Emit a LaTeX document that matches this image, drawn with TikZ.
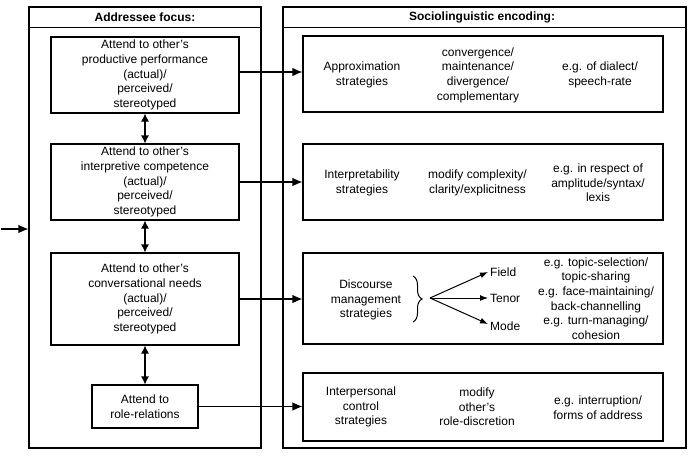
\documentclass[tikz,border=0pt]{standalone}
\usepackage{fontspec}
\setmainfont{Liberation Sans}
\usetikzlibrary{arrows.meta,decorations.pathreplacing}
\tikzset{
  box/.style={draw, line width=1.1pt, inner sep=0pt},
  txt/.style={align=center, inner sep=0pt, font=\fontsize{12}{14.6}\selectfont},
  hdr/.style={inner sep=0pt, font=\fontsize{12}{14.6}\selectfont\bfseries},
  lbl/.style={anchor=west, inner sep=2pt, font=\fontsize{12}{14.6}\selectfont},
  arr/.style={-{Latex[length=10pt,width=8.5pt]}, line width=1.1pt},
  darr/.style={{Latex[length=8pt,width=8pt]}-{Latex[length=8pt,width=8pt]}, line width=1.1pt},
  sarr/.style={-{Latex[length=8pt,width=6pt]}, line width=1pt}
}
\begin{document}
\begin{tikzpicture}[x=1pt,y=-1pt]
\useasboundingbox (0,0) rectangle (693,461);
% outer boxes
\node[box, minimum width=232pt, minimum height=441pt] (lo) at (145,227.5) {};
\node[box, minimum width=403pt, minimum height=441pt] (ro) at (484.5,227.5) {};
\draw[line width=1.1pt] ([yshift=-21pt]lo.north west) -- ([yshift=-21pt]lo.north east);
\draw[line width=1.1pt] ([yshift=-21pt]ro.north west) -- ([yshift=-21pt]ro.north east);
\node[hdr] (lh) at (145,17.5) {Addressee focus:};
\node[hdr] (rh) at (482,17.5) {Sociolinguistic encoding:};
% left boxes
\node[box, txt, minimum width=188pt, minimum height=76pt] (l1) at (145,75) {Attend to other's\\productive performance\\(actual)/\\perceived/\\stereotyped};
\node[box, txt, minimum width=188pt, minimum height=76pt] (l2) at (145,182) {Attend to other's\\interpretive competence\\(actual)/\\perceived/\\stereotyped};
\node[box, txt, minimum width=188pt, minimum height=92pt] (l3) at (145,299) {Attend to other's\\conversational needs\\(actual)/\\perceived/\\stereotyped};
\node[box, txt, minimum width=106pt, minimum height=43pt] (l4) at (145,406.5) {Attend to\\role-relations};
% right boxes
\node[box, minimum width=360pt, minimum height=76pt] (r1) at (483,74) {};
\node[box, minimum width=360pt, minimum height=76pt] (r2) at (483,182) {};
\node[box, minimum width=360pt, minimum height=91pt] (r3) at (483,298.5) {};
\node[box, minimum width=360pt, minimum height=68pt] (r4) at (483,407) {};
% right box texts
\node[txt] (a1) at (362,75) {Approximation\\strategies};
\node[txt] (a2) at (478,75) {convergence/\\maintenance/\\divergence/\\complementary};
\node[txt] (a3) at (600,75) {e.g. of dialect/\\speech-rate};
\node[txt] (b1) at (362,183) {Interpretability\\strategies};
\node[txt] (b2) at (477.5,183) {modify complexity/\\clarity/explicitness};
\node[txt] (b3) at (598,183) {e.g. in respect of\\amplitude/syntax/\\lexis};
\node[txt] (c1) at (366,300) {Discourse\\management\\strategies};
\node[txt] (c3) at (596,298.5) {e.g. topic-selection/\\topic-sharing\\e.g. face-maintaining/\\back-channelling\\e.g. turn-managing/\\cohesion};
\node[txt] (d1) at (361,407) {Interpersonal\\control\\strategies};
\node[txt] (d2) at (477,407) {modify\\other's\\role-discretion};
\node[txt] (d3) at (598,407.5) {e.g. interruption/\\forms of address};
% brace and fan
\coordinate (bt) at (413,276);
\coordinate (bb) at (413,322);
\draw[line width=1pt, decorate, decoration={brace, amplitude=9pt}] (bt) -- (bb);
\coordinate (hub) at (430,298);
\node[lbl] (fld) at (488,272) {Field};
\node[lbl] (ten) at (488,298) {Tenor};
\node[lbl] (mod) at (488,326) {Mode};
\draw[sarr] (hub) -- (fld.west);
\draw[sarr] (hub) -- (ten.west);
\draw[sarr] (hub) -- ([yshift=2pt]mod.west);
% left vertical double arrows
\draw[darr] (l1.south) -- (l2.north);
\draw[darr] (l2.south) -- (l3.north);
\draw[darr] (l3.south) -- (l4.north);
% horizontal arrows
\draw[arr] ([yshift=3pt]l1.east) -- ([yshift=3pt]l1.east -| r1.west);
\draw[arr] (l2.east) -- (l2.east -| r2.west);
\draw[arr] (l3.east) -- (l3.east -| r3.west);
\draw[arr] (l4.east) -- (l4.east -| r4.west);
% entry arrow
\coordinate (in) at (1,229);
\draw[arr] (in) -- (in -| lo.west);
\end{tikzpicture}
\end{document}
